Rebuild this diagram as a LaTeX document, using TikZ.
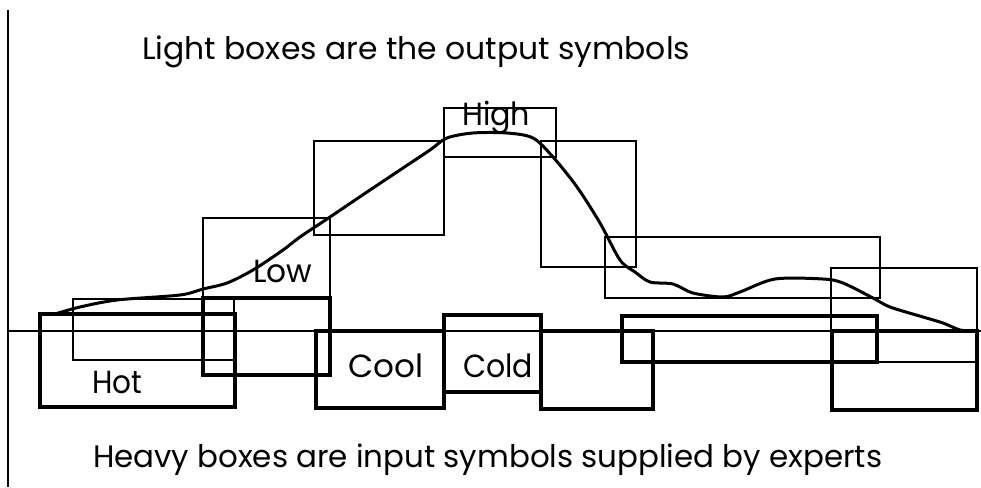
\documentclass[tikz,border=0pt]{standalone}
\usepackage{fontspec}
\setmainfont{Poppins}
\usepackage{graphicx}
\newcommand\fitto[2]{\resizebox{#1}{\height}{#2}}
\tikzset{
  lightbox/.style={draw=black, line width=1.8pt},
  heavybox/.style={draw=black, line width=4.8pt},
  axisline/.style={draw=black, line width=1.8pt},
  curveline/.style={draw=black, line width=3pt, line join=round, line cap=round},
  bigtext/.style={anchor=base west, inner sep=0pt, font=\fontsize{31}{36}\selectfont},
  labeltext/.style={anchor=base west, inner sep=0pt, font=\fontsize{32}{36}\selectfont},
}
\begin{document}
\begin{tikzpicture}[x=1pt, y=-1pt]
\fill[white] (0,0) rectangle (981,487);
\useasboundingbox (0,0) rectangle (981,487);
% axes
\coordinate (ytop) at (8,10);
\coordinate (ybot) at (8,487);
\coordinate (xleft) at (8,331);
\coordinate (xright) at (981,331);
\draw[axisline] (ytop) -- (ybot);
\draw[axisline] (xleft) -- (xright);
% light boxes (output symbols)
\draw[lightbox] (73,299) rectangle (234,360);
\draw[lightbox] (203,218) rectangle (330,298);
\draw[lightbox] (314,141) rectangle (444,235);
\draw[lightbox] (444,108) rectangle (556,157);
\draw[lightbox] (541,141) rectangle (636,267);
\draw[lightbox] (605,237) rectangle (880,298);
\draw[lightbox] (831,268) rectangle (977,362);
% heavy boxes (input symbols)
\draw[heavybox] (40,314) rectangle (235,407);
\draw[heavybox] (203,298) rectangle (330,375);
\draw[heavybox] (316,331) rectangle (444,408);
\draw[heavybox] (444,315) rectangle (541,392);
\draw[heavybox] (541,331) rectangle (653,409);
\draw[heavybox] (622,316) rectangle (877,362);
\draw[heavybox] (832,331) rectangle (977,410);
% curve
\draw[curveline] plot[smooth, tension=0.5] coordinates {
(55,314) (80,307) (117,300) (180,295) (203,289) (227,283) (253,270) (283,250)
(300,237) (330,217) (367,192) (400,170) (430,150) (447,138) (473,133) (507,133)
(533,138) (553,157) (577,187) (600,223) (620,260) (635,272) (650,282) (673,284)
(693,293) (723,297) (740,292) (775,279) (823,279) (843,283) (873,298) (890,307)
(923,317) (943,323) (960,330) (975,331)};
% texts
\node[bigtext] (toptext) at (142,59) {\fitto{548pt}{Light boxes are the output symbols}};
\node[bigtext] (bottext) at (93,467) {\fitto{789pt}{Heavy boxes are input symbols supplied by experts}};
\node[labeltext] (high) at (462,125) {\fitto{68pt}{High}};
\node[labeltext] (low) at (253,282) {\fitto{59pt}{Low}};
\node[labeltext] (hot) at (92,393) {\fitto{50pt}{Hot}};
\node[labeltext] (cool) at (348,377) {\fitto{75pt}{Cool}};
\node[labeltext] (cold) at (463,377) {\fitto{70pt}{Cold}};
\end{tikzpicture}
\end{document}
